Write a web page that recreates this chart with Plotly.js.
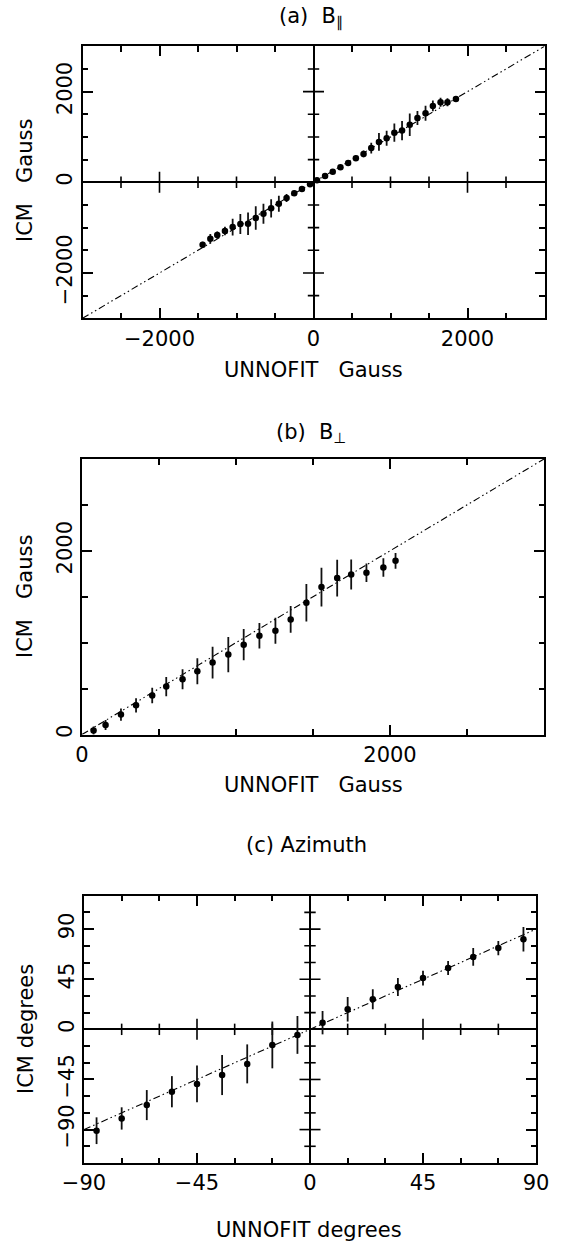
<!DOCTYPE html>
<html>
<head>
<meta charset="utf-8">
<script src="https://cdn.plot.ly/plotly-3.0.1.min.js"></script>
<style>html,body{margin:0;padding:0;background:#fff;}#plot{width:563px;height:1243px;}</style>
</head>
<body>
<div id="plot"></div>
<script>
// ---------- data ----------
// Panel (a): B parallel, UNNOFIT vs ICM (Gauss)
const unnofitParA = [-1440, -1340, -1250, -1150, -1050, -950, -850, -750, -650, -550, -450, -350, -250, -150, -45,
                     45, 150, 250, 350, 450, 550, 650, 750, 850, 950, 1050, 1150, 1250, 1350, 1455, 1550, 1650, 1740, 1850];
const icmParA     = [-1375, -1245, -1165, -1075, -987, -921, -914, -788, -693, -574, -472, -347, -243, -148, -44,
                     45, 140, 235, 330, 425, 530, 625, 755, 890, 970, 1095, 1140, 1270, 1420, 1525, 1685, 1765, 1765, 1840];
const errParA     = [66, 106, 81, 92, 184, 221, 250, 258, 221, 202, 177, 88, 55, 30, 15,
                     10, 20, 20, 25, 30, 59, 74, 118, 195, 166, 202, 210, 250, 155, 166, 118, 99, 90, 30];
const fitA = [-3000, 3000];

// Panel (b): B perpendicular
const unnofitPerpB = [75, 153, 253, 351, 456, 547, 653, 749, 848, 950, 1050, 1152, 1256, 1355, 1457, 1555, 1657, 1748, 1847, 1957, 2036];
const icmPerpB     = [43, 104, 217, 318, 424, 522, 601, 688, 783, 870, 978, 1075, 1130, 1253, 1435, 1605, 1703, 1742, 1761, 1818, 1891];
const errPerpB     = [45, 54, 67, 78, 85, 105, 109, 141, 172, 192, 170, 139, 141, 145, 205, 210, 199, 163, 100, 100, 85];
const fitB = [0, 3000];

// Panel (c): Azimuth (degrees)
const unnofitAzC = [-85, -75, -65, -55, -45, -35, -25, -15, -5, 5, 15, 25, 35, 45, 55, 65, 75, 85];
const icmAzC     = [-91, -80, -68, -56, -49, -41, -31, -14, -5, 6, 18, 27, 38, 46, 55, 65, 73, 81];
const errAzC     = [12, 10, 13.5, 14, 16.5, 18, 17.5, 21, 17, 10.5, 11, 9, 8, 6.7, 6.3, 8, 6.4, 11];
const fitC = [-90, 90];

// text
const titleA = '(a)\u00a0 B<sub>\u2225</sub>';
const titleB = '(b)\u00a0 B<sub>\u22a5</sub>';
const titleC = '(c)\u00a0Azimuth';
const xTitleGauss = 'UNNOFIT\u00a0\u00a0\u00a0Gauss';
const yTitleGauss = 'ICM\u00a0\u00a0\u00a0Gauss';
const xTitleDeg = 'UNNOFIT degrees';
const yTitleDeg = 'ICM degrees';

// ---------- layout geometry ----------
const W = 563, H = 1243;
const px = v => v / W;
const py = v => 1 - v / H;
const boxA = {l: 82.5, r: 544.5, t: 46.3, b: 318.3};
const boxB = {l: 82, r: 544, t: 459, b: 734.5};
const boxC = {l: 84, r: 536, t: 895.7, b: 1163};
const dom = b => ({x: [px(b.l), px(b.r)], y: [py(b.b), py(b.t)]});
const domA = dom(boxA), domB = dom(boxB), domC = dom(boxC);

const FONT = {family: 'DejaVu Sans, sans-serif', size: 21, color: '#000'};
const BIG = 10, SMALL = 5.5, TW = 1.6;

function frame(domain, range, dtick, minorD, isY, anchor, zero) {
  return {
    domain: domain, range: range, anchor: anchor,
    tick0: 0, dtick: dtick,
    ticks: 'inside', ticklen: BIG, tickwidth: TW, tickcolor: '#000',
    minor: {ticks: 'inside', dtick: minorD, ticklen: SMALL, tickwidth: TW, tickcolor: '#000'},
    showline: true, linewidth: 2, linecolor: '#000', mirror: 'ticks',
    showgrid: false, zeroline: zero, zerolinecolor: '#000', zerolinewidth: 1.6,
    tickfont: FONT, tickangle: isY ? -90 : 0
  };
}

// tick marks crossing the zero lines (axis decoration generated from the axis range),
// drawn as symmetric bars about 0; unitsPerPx converts the tick length to axis units
function crossTicks(range, step, bigStep, xa, ya, alongX, unitsPerPx) {
  const pos = [], half = [];
  for (let v = range[0] + step; v < range[1] - 1e-9; v += step) {
    if (Math.abs(v) < 1e-9) continue;
    const big = Math.abs(v / bigStep - Math.round(v / bigStep)) < 1e-9;
    pos.push(v);
    half.push((big ? BIG + 0.5 : SMALL + 0.2) * unitsPerPx);
  }
  const zeros = pos.map(() => 0);
  const bar = {type: 'data', array: half, symmetric: true, visible: true, width: 0, thickness: TW, color: '#000'};
  const t = {xaxis: xa, yaxis: ya, type: 'scatter', mode: 'markers',
    marker: {size: 1, color: 'rgba(0,0,0,0)'}, hoverinfo: 'skip', showlegend: false};
  if (alongX) { t.x = pos; t.y = zeros; t.error_y = bar; }
  else { t.x = zeros; t.y = pos; t.error_x = bar; }
  return t;
}

function pts(x, y, e, xa, ya) {
  return {x: x, y: y, xaxis: xa, yaxis: ya, type: 'scatter', mode: 'markers',
    marker: {color: '#000', size: 6.5},
    error_y: {type: 'data', array: e, visible: true, width: 0, thickness: 1.8, color: '#111'},
    hoverinfo: 'skip', showlegend: false};
}
function fit(r, xa, ya) {
  return {x: r, y: r, xaxis: xa, yaxis: ya, type: 'scatter', mode: 'lines',
    line: {color: '#000', width: 1.1, dash: '7px,3px,1.5px,3px,1.5px,3px'},
    hoverinfo: 'skip', showlegend: false};
}

const rangeA = [-3000, 3000], rangeCx = [-90, 90], rangeCy = [-120, 120];
const data = [
  crossTicks(rangeA, 500, 2000, 'x', 'y', true, 6000 / (boxA.b - boxA.t)),
  crossTicks(rangeA, 500, 2000, 'x', 'y', false, 6000 / (boxA.r - boxA.l)),
  crossTicks(rangeCx, 15, 45, 'x3', 'y3', true, 240 / (boxC.b - boxC.t)),
  crossTicks(rangeCy, 15, 45, 'x3', 'y3', false, 180 / (boxC.r - boxC.l)),
  fit(fitA, 'x', 'y'), pts(unnofitParA, icmParA, errParA, 'x', 'y'),
  fit(fitB, 'x2', 'y2'), pts(unnofitPerpB, icmPerpB, errPerpB, 'x2', 'y2'),
  fit(fitC, 'x3', 'y3'), pts(unnofitAzC, icmAzC, errAzC, 'x3', 'y3')
];

function ann(text, x, y, angle) {
  return {text: text, x: px(x), y: py(y), xref: 'paper', yref: 'paper', showarrow: false,
    xanchor: 'center', yanchor: 'middle', textangle: angle || 0, font: FONT};
}

const layout = {
  width: W, height: H, autosize: false,
  margin: {l: 0, r: 0, t: 0, b: 0, pad: 0},
  paper_bgcolor: '#fff', plot_bgcolor: '#fff',
  showlegend: false,
  xaxis: frame(domA.x, rangeA, 2000, 500, false, 'y', true),
  yaxis: frame(domA.y, rangeA, 2000, 500, true, 'x', true),
  xaxis2: frame(domB.x, [0, 3000], 2000, 500, false, 'y2', false),
  yaxis2: frame(domB.y, [0, 3000], 2000, 500, true, 'x2', false),
  xaxis3: frame(domC.x, rangeCx, 45, 15, false, 'y3', true),
  yaxis3: frame(domC.y, rangeCy, 45, 15, true, 'x3', true),
  annotations: [
    ann(titleA, 311, 17),
    ann(xTitleGauss, 313.5, 370),
    ann(yTitleGauss, 25, 181, -90),
    ann(titleB, 311, 433),
    ann(xTitleGauss, 313, 785),
    ann(yTitleGauss, 25, 597, -90),
    ann(titleC, 306, 845),
    ann(xTitleDeg, 309, 1230),
    ann(yTitleDeg, 26, 1029, -90)
  ]
};

Plotly.newPlot('plot', data, layout, {displayModeBar: false});
</script>
</body>
</html>
